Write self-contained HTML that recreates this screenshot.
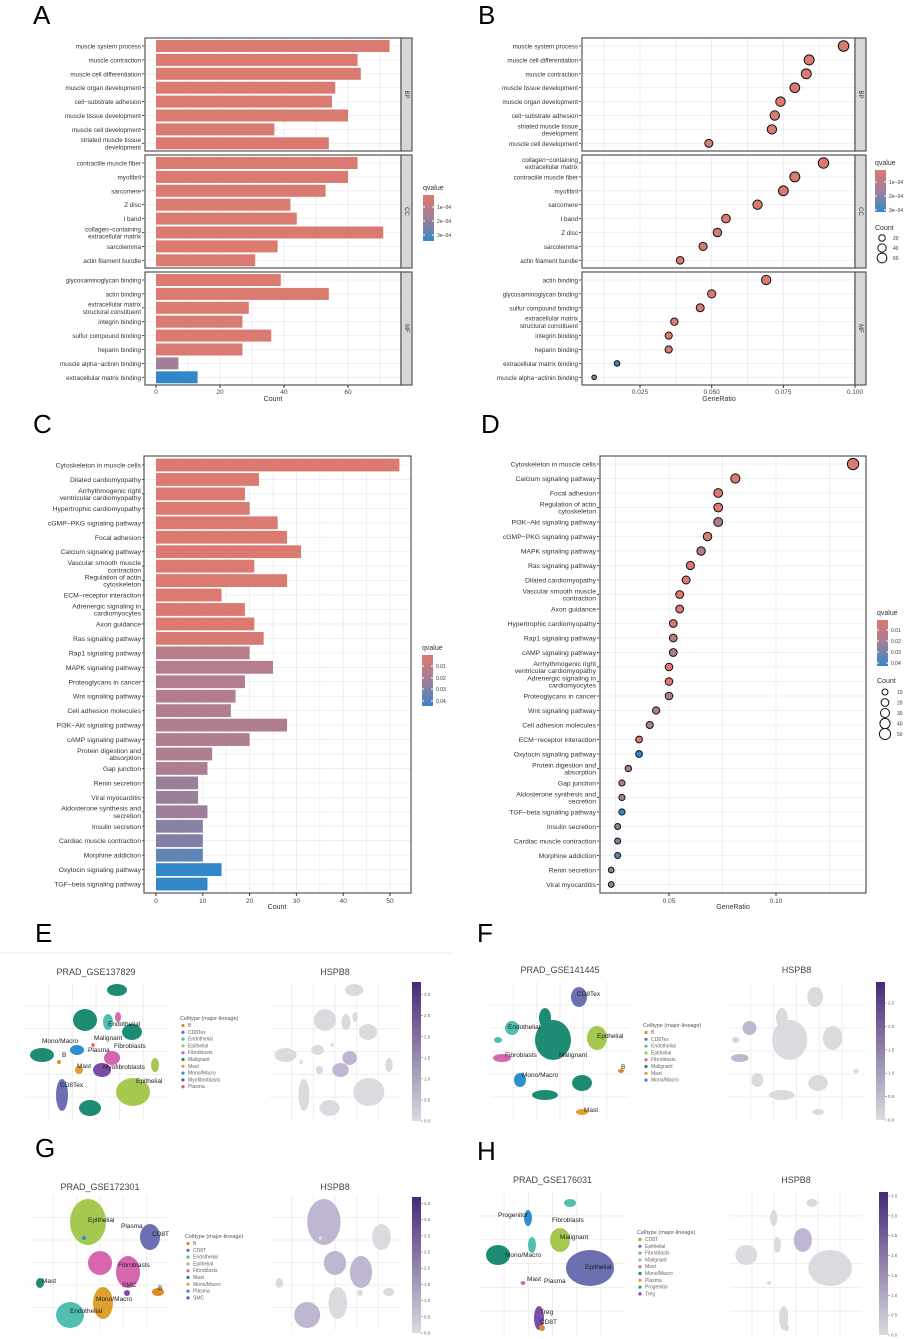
<!DOCTYPE html>
<html><head><meta charset="utf-8"><style>
body{margin:0;background:#fff}
svg{display:block;font-family:"Liberation Sans",sans-serif}
</style></head><body>
<svg id="fig" width="906" height="1339" viewBox="0 0 906 1339" xmlns="http://www.w3.org/2000/svg">
<defs>
<linearGradient id="qgrad" x1="0" y1="0" x2="0" y2="1"><stop offset="0" stop-color="#dc786e"/><stop offset="0.5" stop-color="#a07f98"/><stop offset="1" stop-color="#3a87c8"/></linearGradient>
<linearGradient id="pgrad" x1="0" y1="1" x2="0" y2="0"><stop offset="0" stop-color="#dcdadf"/><stop offset="1" stop-color="#452a78"/></linearGradient>
</defs>
<g font-size="26" fill="#000">
<text x="33" y="24">A</text>
<text x="478" y="24">B</text>
<text x="33" y="433">C</text>
<text x="481" y="433">D</text>
<text x="35" y="942">E</text>
<text x="477" y="942">F</text>
<text x="35" y="1157">G</text>
<text x="477" y="1160">H</text>
</g>
<line x1="0" y1="953" x2="453" y2="953" stroke="#eee"/>
<g id="root"></g>
</svg>
<script>
// ---------- DATA ----------
const aLabels = [
 ["muscle system process","muscle contraction","muscle cell differentiation","muscle organ development","cell\u2212substrate adhesion","muscle tissue development","muscle cell development","striated muscle tissue\ndevelopment"],
 ["contractile muscle fiber","myofibril","sarcomere","Z disc","I band","collagen\u2212containing\nextracellular matrix","sarcolemma","actin filament bundle"],
 ["glycosaminoglycan binding","actin binding","extracellular matrix\nstructural constituent","integrin binding","sulfur compound binding","heparin binding","muscle alpha\u2212actinin binding","extracellular matrix binding"]];
const aCounts = [[73,63,64,56,55,60,37,54],[63,60,53,42,44,71,38,31],[39,54,29,27,36,27,7,13]];
const aQ = [[0,0,0,0,0,0,0,0],[0,0,0,0,0,0,0,0],[0,0,0,0,0,0,1.8e-4,3.2e-4]];
const aTicks = [0,20,40,60];
const facetNames = ["BP","CC","MF"];

const bLabels = [
 ["muscle system process","muscle cell differentiation","muscle contraction","muscle tissue development","muscle organ development","cell\u2212substrate adhesion","striated muscle tissue\ndevelopment","muscle cell development"],
 ["collagen\u2212containing\nextracellular matrix","contractile muscle fiber","myofibril","sarcomere","I band","Z disc","sarcolemma","actin filament bundle"],
 ["actin binding","glycosaminoglycan binding","sulfur compound binding","extracellular matrix\nstructural constituent","integrin binding","heparin binding","extracellular matrix binding","muscle alpha\u2212actinin binding"]];
const bRatio = [[0.096,0.084,0.083,0.079,0.074,0.072,0.071,0.049],[0.089,0.079,0.075,0.066,0.055,0.052,0.047,0.039],[0.069,0.050,0.046,0.037,0.035,0.035,0.017,0.009]];
const bCounts = [[73,64,63,60,56,55,54,37],[71,63,60,53,44,42,38,31],[54,39,36,29,27,27,13,7]];
const bQ = [[0,0,0,0,0,0,0,0],[0,0,0,0,0,0,0,0],[0,0,0,0,0,0,3.2e-4,1.8e-4]];
const bTicks = [0.025,0.050,0.075,0.100];

const cLabels = ["Cytoskeleton in muscle cells","Dilated cardiomyopathy","Arrhythmogenic right\nventricular cardiomyopathy","Hypertrophic cardiomyopathy","cGMP\u2212PKG signaling pathway","Focal adhesion","Calcium signaling pathway","Vascular smooth muscle\ncontraction","Regulation of actin\ncytoskeleton","ECM\u2212receptor interaction","Adrenergic signaling in\ncardiomyocytes","Axon guidance","Ras signaling pathway","Rap1 signaling pathway","MAPK signaling pathway","Proteoglycans in cancer","Wnt signaling pathway","Cell adhesion molecules","PI3K\u2212Akt signaling pathway","cAMP signaling pathway","Protein digestion and\nabsorption","Gap junction","Renin secretion","Viral myocarditis","Aldosterone synthesis and\nsecretion","Insulin secretion","Cardiac muscle contraction","Morphine addiction","Oxytocin signaling pathway","TGF\u2212beta signaling pathway"];
const cCounts = [52,22,19,20,26,28,31,21,28,14,19,21,23,20,25,19,17,16,28,20,12,11,9,9,11,10,10,10,14,11];
const cQ = [0.003,0.003,0.003,0.003,0.003,0.003,0.003,0.003,0.003,0.003,0.003,0.003,0.004,0.016,0.017,0.018,0.018,0.018,0.019,0.019,0.019,0.02,0.026,0.026,0.025,0.029,0.031,0.037,0.046,0.046];
const cTicks = [0,10,20,30,40,50];

const dLabels = ["Cytoskeleton in muscle cells","Calcium signaling pathway","Focal adhesion","Regulation of actin\ncytoskeleton","PI3K\u2212Akt signaling pathway","cGMP\u2212PKG signaling pathway","MAPK signaling pathway","Ras signaling pathway","Dilated cardiomyopathy","Vascular smooth muscle\ncontraction","Axon guidance","Hypertrophic cardiomyopathy","Rap1 signaling pathway","cAMP signaling pathway","Arrhythmogenic right\nventricular cardiomyopathy","Adrenergic signaling in\ncardiomyocytes","Proteoglycans in cancer","Wnt signaling pathway","Cell adhesion molecules","ECM\u2212receptor interaction","Oxytocin signaling pathway","Protein digestion and\nabsorption","Gap junction","Aldosterone synthesis and\nsecretion","TGF\u2212beta signaling pathway","Insulin secretion","Cardiac muscle contraction","Morphine addiction","Renin secretion","Viral myocarditis"];
const dRatio = [0.136,0.081,0.073,0.073,0.073,0.068,0.065,0.060,0.058,0.055,0.055,0.052,0.052,0.052,0.050,0.050,0.050,0.044,0.041,0.036,0.036,0.031,0.028,0.028,0.028,0.026,0.026,0.026,0.023,0.023];
const dCounts = [52,31,28,28,28,26,25,23,22,21,21,20,20,20,19,19,19,17,16,14,14,12,11,11,11,10,10,10,9,9];
const dQ = [0.003,0.003,0.003,0.003,0.019,0.003,0.017,0.004,0.003,0.003,0.003,0.003,0.016,0.019,0.003,0.003,0.018,0.018,0.018,0.003,0.046,0.019,0.02,0.025,0.046,0.029,0.031,0.037,0.026,0.026];
const dTicks = [0.05,0.10];

// ---------- HELPERS ----------
const NS="http://www.w3.org/2000/svg";
const root=document.getElementById('root');
function el(tag,attrs,parent,txt){const e=document.createElementNS(NS,tag);for(const k in attrs)e.setAttribute(k,attrs[k]);if(txt!==undefined)e.textContent=txt;(parent||root).appendChild(e);return e;}
function qColor(q,qmin,qmax){let t=(q-qmin)/(qmax-qmin);t=Math.max(0,Math.min(1,t));
 const a=[218,122,112],m=[160,127,152],b=[50,135,200];let c;
 if(t<0.5){const s=t/0.5;c=a.map((v,i)=>v+(m[i]-v)*s);}else{const s=(t-0.5)/0.5;c=m.map((v,i)=>v+(b[i]-v)*s);}
 return 'rgb('+c.map(Math.round).join(',')+')';}
function yLabel(g,x,y,lab,fs){const lines=lab.split('\n');const t=el('text',{x:x,y:y,'font-size':fs,'text-anchor':'end',fill:'#333'},g);
 
 
 lines.forEach((ln,i)=>{el('tspan',{x:x,y:(y+2.5+(i-(lines.length-1)/2)*7.2)},t,ln);});
 el('line',{x1:x+1,x2:x+3,y1:y,y2:y,stroke:'#333','stroke-width':0.8},g);}
function frame(g,x0,x1,y0,y1){el('rect',{x:x0,y:y0,width:x1-x0,height:y1-y0,fill:'none',stroke:'#555','stroke-width':1.2},g);}
function strip(g,x,y0,y1,name){el('rect',{x:x,y:y0,width:11,height:y1-y0,fill:'#d9d6d6',stroke:'#555','stroke-width':1.2},g);
 el('text',{x:x+5.5,y:(y0+y1)/2,'font-size':6,'text-anchor':'middle',transform:'rotate(90 '+(x+5.5)+' '+((y0+y1)/2)+')',fill:'#333','dominant-baseline':'middle'},g,name);}
function vgrid(g,xs,y0,y1){xs.forEach(x=>el('line',{x1:x,x2:x,y1:y0,y2:y1,stroke:'#ebebeb','stroke-width':0.8},g));}
function colorbar(g,x,y,title,ticks,tickY){el('text',{x:x,y:y,'font-size':7,fill:'#333'},g,title);
 el('rect',{x:x,y:y+5,width:11,height:tickY.h,fill:'url(#qgrad)'},g);
 ticks.forEach((t,i)=>{const yy=tickY.ys[i];el('line',{x1:x,x2:x+2,y1:yy,y2:yy,stroke:'#fff'},g);el('line',{x1:x+9,x2:x+11,y1:yy,y2:yy,stroke:'#fff'},g);
 el('text',{x:x+14,y:yy+2,'font-size':5,fill:'#333'},g,t);});}

// ---------- PANEL A ----------
(function(){const g=el('g',{});
 const x0=145,x1=401,zero=156,k=3.2;const facY=[[38,151],[155,268],[272,385]];
 const xs=v=>zero+v*k;
 facY.forEach((fy,f)=>{const gx=[];for(let v=10;v<=70;v+=10)gx.push(xs(v));
  el('rect',{x:x0,y:fy[0],width:x1-x0,height:fy[1]-fy[0],fill:'#fff'},g);
  vgrid(g,gx,fy[0],fy[1]);
  aLabels[f].forEach((lab,i)=>{const y=fy[0]+8+i*13.9;
   el('line',{x1:x0,x2:x1,y1:y,y2:y,stroke:'#ebebeb','stroke-width':0.8},g);
   const b=el('rect',{x:xs(0),y:y-6,width:aCounts[f][i]*k,height:12,fill:qColor(aQ[f][i],0.5e-4,3.2e-4)},g);
   
   
   yLabel(g,141,y,lab,6.3);});
  frame(g,x0,x1,fy[0],fy[1]);strip(g,401,fy[0],fy[1],facetNames[f]);});
 aTicks.forEach(t=>{el('line',{x1:xs(t),x2:xs(t),y1:385,y2:388,stroke:'#333'},g);
  const tt=el('text',{x:xs(t),y:394,'font-size':6.5,'text-anchor':'middle',fill:'#444'},g,t);});
 el('text',{x:273,y:401,'font-size':7,'text-anchor':'middle',fill:'#333'},g,'Count');
 colorbar(g,423,190,'qvalue',['1e\u221204','2e\u221204','3e\u221204'],{h:46,ys:[207,221,235]});
})();

// ---------- PANEL B ----------
(function(){const g=el('g',{});
 const x0=582,x1=855,xs=v=>640+(v-0.025)*2867;const facY=[[38,151],[155,268],[272,385]];
 facY.forEach((fy,f)=>{const gx=[];for(let v=0.0125;v<=0.1;v+=0.0125)gx.push(xs(v));
  vgrid(g,gx.filter(x=>x>x0),fy[0],fy[1]);
  bLabels[f].forEach((lab,i)=>{const y=fy[0]+8+i*13.9;
   el('line',{x1:x0,x2:x1,y1:y,y2:y,stroke:'#ebebeb','stroke-width':0.8},g);
   yLabel(g,578,y,lab,6.3);});
  bLabels[f].forEach((lab,i)=>{const y=fy[0]+8+i*13.9;
   const c=el('circle',{cx:xs(bRatio[f][i]),cy:y,r:1+0.5*Math.sqrt(bCounts[f][i]),fill:qColor(bQ[f][i],0.5e-4,3.2e-4),stroke:'#111','stroke-width':1},g);
   
   });
  frame(g,x0,x1,fy[0],fy[1]);strip(g,855,fy[0],fy[1],facetNames[f]);});
 bTicks.forEach(t=>{el('line',{x1:xs(t),x2:xs(t),y1:385,y2:388,stroke:'#333'},g);
  const tt=el('text',{x:xs(t),y:394,'font-size':6.5,'text-anchor':'middle',fill:'#444'},g,t.toFixed(3));});
 el('text',{x:719,y:401,'font-size':7,'text-anchor':'middle',fill:'#333'},g,'GeneRatio');
 colorbar(g,875,165,'qvalue',['1e\u221204','2e\u221204','3e\u221204'],{h:42,ys:[182,196,210]});
 el('text',{x:875,y:230,'font-size':7,fill:'#333'},g,'Count');
 [20,40,60].forEach((c,i)=>{const y=238+i*10;el('circle',{cx:882,cy:y,r:1+0.5*Math.sqrt(c),fill:'none',stroke:'#111'},g);el('text',{x:893,y:y+2,'font-size':5,fill:'#333'},g,c);});
})();

// ---------- PANEL C ----------
(function(){const g=el('g',{});
 const x0=144,x1=411,y0=456,y1=893,xs=v=>156+v*4.68;
 const gx=[];for(let v=5;v<=55;v+=5)gx.push(xs(v));vgrid(g,gx.filter(x=>x<x1),y0,y1);
 cLabels.forEach((lab,i)=>{const y=465+i*14.45;
  el('line',{x1:x0,x2:x1,y1:y,y2:y,stroke:'#ebebeb','stroke-width':0.8},g);
  const b=el('rect',{x:xs(0),y:y-6.4,width:cCounts[i]*4.68,height:12.8,fill:qColor(cQ[i],0.003,0.046)},g);
  
  
  yLabel(g,141,y,cLabels[i],6.8);});
 frame(g,x0,x1,y0,y1);
 cTicks.forEach(t=>{el('line',{x1:xs(t),x2:xs(t),y1:y1,y2:y1+3,stroke:'#333'},g);
  const tt=el('text',{x:xs(t),y:y1+10,'font-size':6.5,'text-anchor':'middle',fill:'#444'},g,t);});
 el('text',{x:277,y:909,'font-size':7,'text-anchor':'middle',fill:'#333'},g,'Count');
 colorbar(g,422,650,'qvalue',['0.01','0.02','0.03','0.04'],{h:51,ys:[666,678,689,701]});
})();

// ---------- PANEL D ----------
(function(){const g=el('g',{});
 const x0=600,x1=866,y0=456,y1=893,xs=v=>562+v*2140;
 const gx=[];for(let v=0.025;v<=0.14;v+=0.025)gx.push(xs(v));vgrid(g,gx.filter(x=>x>x0&&x<x1),y0,y1);
 dLabels.forEach((lab,i)=>{const y=464+i*14.5;
  el('line',{x1:x0,x2:x1,y1:y,y2:y,stroke:'#ebebeb','stroke-width':0.8},g);
  yLabel(g,596,y,lab,6.8);});
 dLabels.forEach((lab,i)=>{const y=464+i*14.5;
  const c=el('circle',{cx:xs(dRatio[i]),cy:y,r:0.9+0.66*Math.sqrt(dCounts[i]),fill:qColor(dQ[i],0.003,0.046),stroke:'#111','stroke-width':1},g);
  
  });
 frame(g,x0,x1,y0,y1);
 dTicks.forEach(t=>{el('line',{x1:xs(t),x2:xs(t),y1:y1,y2:y1+3,stroke:'#333'},g);
  const tt=el('text',{x:xs(t),y:y1+10,'font-size':6.5,'text-anchor':'middle',fill:'#444'},g,t.toFixed(2));});
 el('text',{x:733,y:909,'font-size':7,'text-anchor':'middle',fill:'#333'},g,'GeneRatio');
 colorbar(g,877,615,'qvalue',['0.01','0.02','0.03','0.04'],{h:46,ys:[630,641,652,663]});
 el('text',{x:877,y:683,'font-size':7,fill:'#333','text-anchor':'start'},g,'Count');
 [10,20,30,40,50].forEach((c,i)=>{const y=692+i*10.5;el('circle',{cx:885,cy:y,r:0.9+0.66*Math.sqrt(c),fill:'none',stroke:'#111'},g);el('text',{x:897,y:y+2,'font-size':5,fill:'#333'},g,c);});
})();

// ---------- UMAP PANELS ----------
const COL={B:'#e08a20',CD8:'#6c6fb0',Endo:'#4fc0b0',Epi:'#a5c84f',Fib:'#d865b0',Mal:'#1e8c73',Mast:'#e0a030',Mono:'#2d8fd0',Myo:'#7a4ea8',Plasma:'#e06050',SMC:'#7a4ea8',Prog:'#2d8fd0',Treg:'#7a4ea8'};
function umap(cfg){const g=el('g',{});
 const [px0,py0,px1,py1]=cfg.box,[hx0,hy0,hx1,hy1]=cfg.hbox;
 el('text',{x:(px0+px1)/2,y:cfg.ty,'font-size':9,'text-anchor':'middle',fill:'#444'},g,cfg.title);
 el('text',{x:(hx0+hx1)/2,y:cfg.ty,'font-size':9,'text-anchor':'middle',fill:'#444'},g,'HSPB8');
 for(let i=1;i<6;i++){const x=px0+(px1-px0)*i/6,xh=hx0+(hx1-hx0)*i/6;el('line',{x1:x,x2:x,y1:py0,y2:py1,stroke:'#eee'},g);el('line',{x1:xh,x2:xh,y1:hy0,y2:hy1,stroke:'#eee'},g);}
 for(let i=1;i<6;i++){const y=py0+(py1-py0)*i/6,yh=hy0+(hy1-hy0)*i/6;el('line',{x1:px0,x2:px1,y1:y,y2:y,stroke:'#eee'},g);el('line',{x1:hx0,x2:hx1,y1:yh,y2:yh,stroke:'#eee'},g);}
 const sx=(hx1-hx0)/(px1-px0),sy=(hy1-hy0)/(py1-py0);
 cfg.blobs.forEach(b=>{const e=el('ellipse',{cx:b[0],cy:b[1],rx:b[2],ry:b[3],fill:COL[b[4]]},g);
  
  
  el('ellipse',{cx:hx0+(b[0]-px0)*sx,cy:hy0+(b[1]-py0)*sy,rx:b[2]*sx,ry:b[3]*sy,fill:b[5]?'#bfb6d2':'#dcd9df'},g);});
 cfg.labels.forEach(l=>el('text',{x:l[1],y:l[2],'font-size':6.5,fill:'#222'},g,l[0]));
 el('text',{x:cfg.lx,y:cfg.ly,'font-size':5.5,fill:'#555'},g,'Celltype (major-lineage)');
 cfg.legend.forEach((k,i)=>{const y=cfg.ly+7+i*6.8;el('circle',{cx:cfg.lx+3,cy:y-1.5,r:1.6,fill:COL[k[1]]},g);el('text',{x:cfg.lx+8,y:y,'font-size':5,fill:'#666'},g,k[0]);});
 const [cx,cy0,cy1]=cfg.cbar;el('rect',{x:cx,y:cy0,width:9,height:cy1-cy0,fill:'url(#pgrad)'},g);
 cfg.cticks.forEach((t,i)=>{const y=cy1-(cy1-cy0)*t/cfg.cmax;el('text',{x:cx+12,y:y+1.5,'font-size':4.5,fill:'#666'},g,t.toFixed(1));el('line',{x1:cx+9,x2:cx+11,y1:y,y2:y,stroke:'#666','stroke-width':0.5},g);});
}
umap({name:'panel-e-umap',title:'PRAD_GSE137829',ty:975,box:[25,983,167,1120],hbox:[270,983,400,1120],
 blobs:[[117,990,10,6,'Mal'],[85,1020,12,11,'Mal'],[42,1055,12,7,'Mal'],[90,1108,11,8,'Mal'],[132,1032,10,8,'Mal'],[108,1022,5,8,'Endo'],[118,1017,3,5,'Fib'],[112,1058,8,7,'Fib',1],[102,1070,9,7,'Myo',1],[133,1092,17,14,'Epi'],[155,1065,4,7,'Epi'],[77,1050,7,5,'Mono'],[79,1070,4,4,'Mast'],[62,1095,6,16,'CD8'],[59,1062,2,2,'B'],[93,1045,1.5,2,'Plasma']],
 labels:[['Endothelial',108,1026],['Malignant',94,1040],['Mono/Macro',42,1043],['Plasma',88,1052],['Fibroblasts',114,1048],['B',62,1057],['Mast',77,1068],['Myofibroblasts',103,1069],['Epithelial',136,1083],['CD8Tex',60,1087]],
 lx:180,ly:1020,legend:[['B','B'],['CD8Tex','CD8'],['Endothelial','Endo'],['Epithelial','Epi'],['Fibroblasts','Fib'],['Malignant','Mal'],['Mast','Mast'],['Mono/Macro','Mono'],['Myofibroblasts','Myo'],['Plasma','Plasma']],
 cbar:[412,982,1121],cmax:3.3,cticks:[0,0.5,1,1.5,2,2.5,3]});
umap({name:'panel-f-umap',title:'PRAD_GSE141445',ty:973,box:[490,982,630,1120],hbox:[728,982,865,1120],
 blobs:[[579,997,8,10,'CD8'],[553,1040,18,20,'Mal'],[545,1018,6,10,'Mal'],[582,1083,10,8,'Mal'],[545,1095,13,5,'Mal'],[512,1028,7,7,'Endo',1],[498,1040,4,3,'Endo'],[502,1058,9,4,'Fib',1],[597,1038,10,12,'Epi'],[520,1080,6,7,'Mono'],[582,1112,6,3,'Mast'],[621,1071,3,2,'B']],
 labels:[['CD8Tex',577,996],['Endothelial',508,1029],['Epithelial',597,1038],['Fibroblasts',505,1057],['Malignant',559,1057],['B',621,1069],['Mono/Macro',522,1077],['Mast',584,1112]],
 lx:643,ly:1027,legend:[['B','B'],['CD8Tex','CD8'],['Endothelial','Endo'],['Epithelial','Epi'],['Fibroblasts','Fib'],['Malignant','Mal'],['Mast','Mast'],['Mono/Macro','Mono']],
 cbar:[876,982,1120],cmax:2.95,cticks:[0,0.5,1,1.5,2,2.5]});
umap({name:'panel-g-umap',title:'PRAD_GSE172301',ty:1190,box:[30,1195,170,1330],hbox:[270,1195,400,1330],
 blobs:[[88,1222,18,23,'Epi',1],[150,1237,10,13,'CD8'],[100,1263,12,12,'Fib',1],[128,1272,12,16,'Fib',1],[40,1283,4,5,'Mal'],[103,1303,10,16,'Mast'],[70,1315,14,13,'Endo',1],[158,1292,6,4,'B'],[127,1293,3,3,'SMC'],[84,1238,2,2,'Mono']],
 labels:[['Epithelial',88,1222],['Plasma',121,1228],['CD8T',152,1236],['Fibroblasts',118,1267],['Mast',42,1283],['SMC',122,1287],['B',158,1290],['Mono/Macro',96,1301],['Endothelial',70,1313]],
 lx:185,ly:1238,legend:[['B','B'],['CD8T','CD8'],['Endothelial','Endo'],['Epithelial','Epi'],['Fibroblasts','Fib'],['Mast','Mal'],['Mono/Macro','Mast'],['Plasma','Mono'],['SMC','SMC']],
 cbar:[412,1197,1333],cmax:4.2,cticks:[0,0.5,1,1.5,2,2.5,3,3.5,4]});
umap({name:'panel-h-umap',title:'PRAD_GSE176031',ty:1183,box:[480,1192,625,1335],hbox:[730,1192,862,1335],
 blobs:[[570,1203,6,4,'Endo'],[532,1245,4,8,'Endo'],[528,1218,4,8,'Prog'],[560,1240,10,12,'Epi',1],[590,1268,24,18,'CD8'],[498,1255,12,10,'Mal'],[523,1283,2.5,2,'Fib'],[539,1318,5,12,'Treg'],[542,1328,3,3,'B']],
 labels:[['Progenitor',498,1217],['Fibroblasts',552,1222],['Malignant',560,1239],['Mono/Macro',505,1257],['Epithelial',585,1269],['Mast',527,1281],['Plasma',544,1283],['Treg',540,1314],['CD8T',540,1324]],
 lx:637,ly:1234,legend:[['CD8T','B'],['Epithelial','CD8'],['Fibroblasts','Endo'],['Malignant','Epi'],['Mast','Fib'],['Mono/Macro','Mal'],['Plasma','Mast'],['Progenitor','Prog'],['Treg','Treg']],
 cbar:[879,1192,1335],cmax:3.6,cticks:[0,0.5,1,1.5,2,2.5,3,3.5]});
</script>
</body></html>
